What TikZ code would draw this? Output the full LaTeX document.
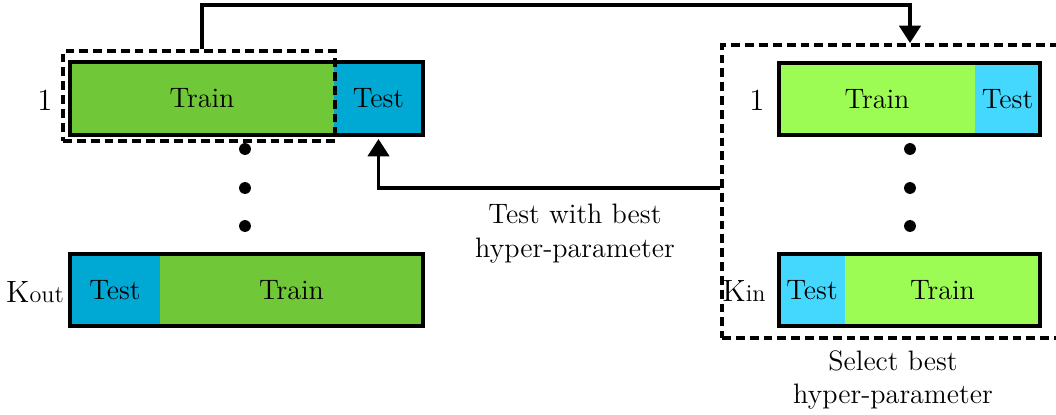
\documentclass[tikz,border=0pt]{standalone}
\usetikzlibrary{arrows.meta}

\definecolor{outtrain}{HTML}{70C737}
\definecolor{outtest}{HTML}{00A8D4}
\definecolor{intrain}{HTML}{9CFC54}
\definecolor{intest}{HTML}{45D8FF}

\begin{document}
\begin{tikzpicture}[x=0.016cm,y=-0.016cm]

\tikzset{cell/.style = {inner sep=0pt, minimum height=1.14cm, font=\fontsize{12.8}{15.4}\selectfont}}
\tikzset{bar/.style = {draw, line width=1.8pt}}
\tikzset{box/.style = {draw, dash pattern=on 4pt off 2.3pt, line width=1.8pt, inner sep=0pt}}
\tikzset{dot/.style = {circle, fill, inner sep=0pt, minimum size=0.19cm}}
\tikzset{edge/.style = {-{Triangle[length=0.28cm,width=0.34cm]}, line width=1.8pt}}
\tikzset{lbl/.style = {font=\fontsize{14}{17}\selectfont}}
\tikzset{note/.style = {align=center, font=\fontsize{12.8}{15.4}\selectfont}}

\useasboundingbox (0,0) rectangle (1056,414);

%outer folds
\node[cell, fill=outtrain, minimum width=4.224cm] (otrain1) at (202,98.5) {Train};
\node[cell, fill=outtest, minimum width=1.424cm] (otest1) at (378.5,98.5) {Test};
\draw[bar] (otrain1.north west) rectangle (otest1.south east);
\node[cell, fill=outtest, minimum width=1.44cm] (otestk) at (115,290) {Test};
\node[cell, fill=outtrain, minimum width=4.208cm] (otraink) at (291.5,290) {Train};
\draw[bar] (otestk.north west) rectangle (otraink.south east);
\node[lbl] (o1) at (45,100) {1};
\node[lbl] (ok) at (35,292) {K{\fontsize{11}{13}\selectfont out}};
\node[dot] (od1) at (245,149) {};
\node[dot] (od2) at (245,188) {};
\node[dot] (od3) at (245,226) {};

%inner folds
\node[cell, fill=intrain, minimum width=3.136cm] (itrain1) at (877,99) {Train};
\node[cell, fill=intest, minimum width=1.04cm] (itest1) at (1007.5,99) {Test};
\draw[bar] (itrain1.north west) rectangle (itest1.south east);
\node[cell, fill=intest, minimum width=1.056cm] (itestk) at (812,290) {Test};
\node[cell, fill=intrain, minimum width=3.12cm] (itraink) at (942.5,290) {Train};
\draw[bar] (itestk.north west) rectangle (itraink.south east);
\node[lbl] (i1) at (757,100) {1};
\node[lbl] (ik) at (744,291) {K{\fontsize{11}{13}\selectfont in}};
\node[dot] (id1) at (910,149) {};
\node[dot] (id2) at (910,188) {};
\node[dot] (id3) at (910,226) {};

%dashed boxes
\node[box, minimum width=4.352cm, minimum height=1.44cm] (ldash) at (199,96) {};
\node[box, minimum width=5.44cm, minimum height=4.688cm] (rdash) at (892,191.5) {};

%edges
\draw[edge] ([xshift=0.048cm]ldash.north) -- ++(0,-44) -| (id1 |- rdash.north);
\draw[edge, shorten >=2pt] (rdash.west |- od2) -| (otest1.south);

%notes
\node[note] (n1) at (575,234) {Test with best\\hyper-parameter};
\node[note] (n2) at (893,380) {Select best\\hyper-parameter};

\end{tikzpicture}
\end{document}
